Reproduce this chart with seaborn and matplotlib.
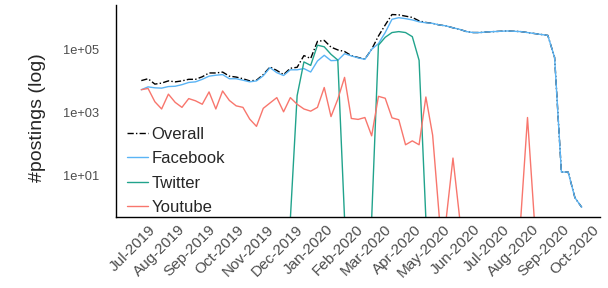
import numpy as np
import pandas as pd
import matplotlib
matplotlib.use("Agg")
import matplotlib.pyplot as plt
import seaborn as sns

# weekly posting counts, Jun-2019 .. Sep-2020
weeks = pd.date_range("2019-06-24", periods=66, freq="7D")

overall = [10200, 11700, 7900, 8500, 10000, 9300, 10000, 11200, 11200, 13500,
           17800, 17800, 19000, 14100, 13200, 11700, 10000, 10500, 15800, 27500,
           21400, 15800, 25100, 26900, 63100, 51300, 178000, 191000, 117000, 95500,
           85100, 63100, 55000, 49000, 100000, 263000, 589000, 1260000, 1230000, 1120000,
           1020000, 794000, 708000, 662000, 589000, 550000, 479000, 427000, 363000, 339000,
           339000, 355000, 363000, 372000, 380000, 372000, 363000, 340000, 316000, 295000,
           275000, 55000, 13, 13, 2, 1]
facebook = [5250, 6460, 6030, 5890, 6610, 6760, 7590, 8910, 9330, 11200,
            14100, 15100, 15800, 11700, 11700, 10500, 9330, 10000, 14500, 26300,
            18200, 14800, 22400, 22400, 24500, 19100, 42700, 64600, 43700, 44700,
            72400, 61700, 53700, 47900, 100000, 151000, 339000, 891000, 1000000, 933000,
            851000, 741000, 692000, 661000, 589000, 550000, 479000, 427000, 363000, 339000,
            339000, 355000, 363000, 372000, 380000, 372000, 363000, 339000, 316000, 295000,
            275000, 55000, 13, 13, 2, 1]
twitter = [0] * 23 + [3400, 39800, 30900, 135000, 120000, 69200, 45700,
                      0, 0, 0, 0, 0,
                      135000, 240000, 339000, 363000, 339000, 251000, 44700] + [0] * 24
youtube = [5250, 5750, 2190, 1290, 3800, 2090, 1450, 2750, 2340, 1820,
           4470, 1290, 4790, 2400, 1620, 1450, 617, 363, 1350, 2000,
           2950, 1050, 2950, 1820, 1290, 1100, 1450, 6170, 741, 2630,
           12900, 646, 603, 692, 182, 3240, 2820, 676, 589, 95,
           126, 95, 3090, 191, 0, 0, 36, 0, 0, 0,
           0, 0, 0, 0, 0, 0, 0, 692, 0, 0,
           0, 0, 0, 0, 0, 0]

platforms = ["Overall", "Facebook", "Twitter", "Youtube"]
colors = {"Overall": "black", "Facebook": "#5AB4F5",
          "Twitter": "#21A38C", "Youtube": "#F8766D"}

df = pd.concat([
    pd.DataFrame({"week": weeks, "count": vals, "platform": name})
    for name, vals in zip(platforms, [overall, facebook, twitter, youtube])
], ignore_index=True)

# log scale with 5% expansion; zero counts are pushed just below the
# bottom edge so they behave like ggplot's -Inf (drop to the axis)
pos = df.loc[df["count"] > 0, "count"]
lo, hi = np.log10(pos.min()), np.log10(pos.max())
pad = 0.05 * (hi - lo)
ymin, ymax = 10 ** (lo - pad), 10 ** (hi + pad)
df["plot_count"] = df["count"].where(df["count"] > 0, ymin / 1.15)

sns.set_style("white")
plt.rcParams["font.family"] = ["Liberation Sans", "DejaVu Sans"]

fig, ax = plt.subplots(figsize=(6.08, 2.88), dpi=100)
fig.subplots_adjust(left=0.191, right=0.987, top=0.983, bottom=0.247)

sns.lineplot(data=df, x="week", y="plot_count", hue="platform", style="platform",
             hue_order=platforms, style_order=platforms, palette=colors,
             dashes={"Overall": (4.5, 1.6, 1, 1.6), "Facebook": "", "Twitter": "", "Youtube": ""},
             linewidth=1.0, ax=ax)

ax.set_yscale("log")
ax.set_ylim(ymin, ymax)
ax.set_xlim(pd.Timestamp("2019-05-29"), pd.Timestamp("2020-10-10"))

ax.set_yticks([10, 1e3, 1e5])
ax.set_yticklabels(["1e+01", "1e+03", "1e+05"])
ax.yaxis.set_minor_locator(matplotlib.ticker.NullLocator())

months = pd.date_range("2019-07-01", "2020-10-01", freq="MS")
ax.set_xticks(months)
ax.set_xticklabels([m.strftime("%b-%Y") for m in months], rotation=45,
                   ha="right", va="top", rotation_mode="anchor")

ax.tick_params(axis="y", length=0, pad=12, labelsize=9.3, labelcolor="#4D4D4D")
ax.tick_params(axis="x", length=0, pad=4, labelsize=11, labelcolor="#4D4D4D")

for side in ["top", "right"]:
    ax.spines[side].set_visible(False)
for side in ["left", "bottom"]:
    ax.spines[side].set_color("black")
    ax.spines[side].set_linewidth(1.0)
    ax.spines[side].set_zorder(3)

ax.set_xlabel("")
ax.set_ylabel("#postings (log)", fontsize=14)
ax.yaxis.set_label_coords(-0.145, 0.467)

ax.legend(title=None, frameon=False, fontsize=12, loc="upper left",
          bbox_to_anchor=(0.023, 0.426), borderaxespad=0, borderpad=0,
          handlelength=1.25, handletextpad=0.2, labelspacing=0.57)

fig.savefig("out.png", dpi=100)
